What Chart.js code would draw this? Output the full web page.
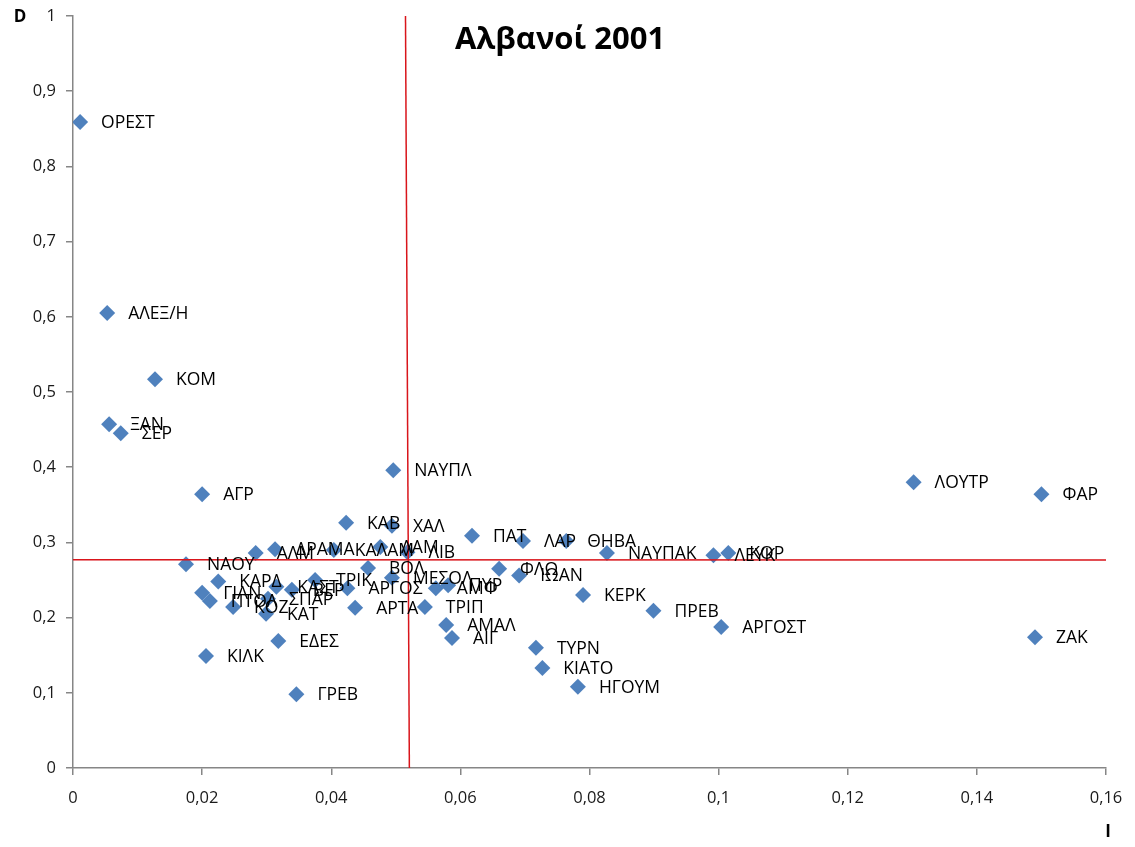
<!DOCTYPE html>
<html>
<head>
<meta charset="utf-8">
<script src="https://cdn.jsdelivr.net/npm/chart.js@4/dist/chart.umd.min.js"></script>
<style>
  html, body { margin: 0; padding: 0; background: #fff; }
  #wrap { width: 1135px; height: 847px; position: relative; }
</style>
</head>
<body>
<div id="wrap"><canvas id="chart" width="1135" height="847"></canvas></div>
<script>
const names = [
    "ΟΡΕΣΤ", "ΑΛΕΞ/Η", "ΚΟΜ", "ΞΑΝ", "ΣΕΡ", "ΑΓΡ", "ΝΑΥΠΛ", "ΚΑΒ", "ΧΑΛ", "ΠΑΤ",
    "ΛΑΡ", "ΘΗΒΑ", "ΝΑΥΠΑΚ", "ΛΕΥΚ", "ΚΟΡ", "ΛΟΥΤΡ", "ΦΑΡ", "ΖΑΚ", "ΑΡΓΟΣΤ", "ΠΡΕΒ",
    "ΚΕΡΚ", "ΗΓΟΥΜ", "ΚΙΑΤΟ", "ΤΥΡΝ", "ΑΜΑΛ", "ΑΙΓ", "ΤΡΙΠ", "ΑΡΤΑ", "ΦΛΩ", "ΙΩΑΝ",
    "ΑΜΦ", "ΠΥΡ", "ΜΕΣΟΛ", "ΒΟΛ", "ΑΡΓΟΣ", "ΤΡΙΚ", "ΚΑΣΤ", "ΒΕΡ", "ΚΑΡΔ", "ΝΑΟΥ",
    "ΓΙΑΝ", "ΠΤΟΛ", "ΚΟΖ", "ΣΠΑΡ", "ΚΑΤ", "ΚΙΛΚ", "ΕΔΕΣ", "ΓΡΕΒ", "ΑΛΜ", "ΔΡΑΜΑ",
    "ΚΑΛΑΜ", "ΛΑΜ", "ΛΙΒ"
];
const valuesI = [
    0.0011, 0.0053, 0.0127, 0.0056, 0.0074, 0.0200, 0.0496, 0.0423, 0.0494, 0.0618,
    0.0697, 0.0764, 0.0827, 0.0992, 0.1015, 0.1302, 0.1500, 0.1490, 0.1004, 0.0899,
    0.0790, 0.0782, 0.0727, 0.0717, 0.0578, 0.0587, 0.0545, 0.0437, 0.0660, 0.0691,
    0.0562, 0.0581, 0.0494, 0.0457, 0.0425, 0.0375, 0.0315, 0.0339, 0.0225, 0.0175,
    0.0200, 0.0212, 0.0248, 0.0302, 0.0299, 0.0206, 0.0318, 0.0346, 0.0283, 0.0313,
    0.0404, 0.0476, 0.0518
];
const valuesD = [
    0.859, 0.605, 0.517, 0.457, 0.445, 0.364, 0.396, 0.326, 0.322, 0.309,
    0.302, 0.302, 0.286, 0.283, 0.286, 0.380, 0.364, 0.174, 0.1875, 0.209,
    0.230, 0.108, 0.133, 0.160, 0.190, 0.173, 0.214, 0.213, 0.265, 0.256,
    0.239, 0.243, 0.253, 0.266, 0.239, 0.250, 0.241, 0.237, 0.248, 0.271,
    0.233, 0.222, 0.214, 0.225, 0.205, 0.149, 0.169, 0.098, 0.286, 0.291,
    0.290, 0.294, 0.287
];
// mean lines
const meanI = [0.0515, 0.0521];
const meanILevels = [1, 0];
const meanD = [0.2768, 0.2765];
const meanDLevels = [0, 0.16];

const xTicks = [0, 0.02, 0.04, 0.06, 0.08, 0.1, 0.12, 0.14, 0.16];
const yTicks = [0, 0.1, 0.2, 0.3, 0.4, 0.5, 0.6, 0.7, 0.8, 0.9, 1];

const FONT = "'Open Sans', 'Noto Sans', sans-serif";
const comma = v => String(Number(v.toFixed(2))).replace(".", ",");

const points = valuesI.map((x, i) => ({ x, y: valuesD[i] }));

const pointLabels = {
    id: "pointLabels",
    afterDatasetsDraw(chart) {
        const ctx = chart.ctx;
        const meta = chart.getDatasetMeta(2);
        ctx.save();
        ctx.font = "17.5px " + FONT;
        ctx.fillStyle = "#000";
        ctx.textBaseline = "middle";
        meta.data.forEach((pt, i) => {
            ctx.fillText(names[i], pt.x + 21, pt.y + 1);
        });
        ctx.restore();
    }
};

const extraText = {
    id: "extraText",
    afterDraw(chart) {
        const ctx = chart.ctx;
        ctx.save();
        ctx.fillStyle = "#000";
        ctx.font = "bold 31px " + FONT;
        ctx.textAlign = "center";
        ctx.textBaseline = "middle";
        ctx.fillText("Αλβανοί 2001", 560, 40);
        ctx.font = "bold 17px " + FONT;
        ctx.fillText("D", 20, 17);
        ctx.fillText("I", 1108, 832);
        ctx.restore();
    }
};

new Chart(document.getElementById("chart"), {
    type: "scatter",
    data: {
        datasets: [
            {
                type: "line",
                data: meanI.map((x, i) => ({ x, y: meanILevels[i] })),
                borderColor: "#d9151b",
                borderWidth: 1.5,
                pointRadius: 0,
                fill: false,
            },
            {
                type: "line",
                data: meanDLevels.map((x, i) => ({ x, y: meanD[i] })),
                borderColor: "#d9151b",
                borderWidth: 1.5,
                pointRadius: 0,
                fill: false,
            },
            {
                data: points,
                pointStyle: "rectRot",
                pointRadius: 8,
                pointBackgroundColor: "#4f81bd",
                pointBorderColor: "#4f81bd",
                pointBorderWidth: 0,
            },
        ],
    },
    options: {
        responsive: false,
        animation: false,
        devicePixelRatio: 1,
        layout: { padding: { top: 16, right: 29, left: 0, bottom: 0 } },
        plugins: {
            legend: { display: false },
            tooltip: { enabled: false },
            title: { display: false },
        },
        scales: {
            x: {
                type: "linear",
                min: 0,
                max: 0.16,
                afterFit: s => { s.height = 79; s.paddingLeft = 0; s.paddingRight = 0; },
                afterBuildTicks: s => { s.ticks = xTicks.map(v => ({ value: v })); },
                border: { color: "#868686", width: 1.5 },
                grid: { drawOnChartArea: false, tickLength: 7, color: "#868686", lineWidth: 1.5 },
                ticks: {
                    autoSkip: false,
                    maxRotation: 0,
                    minRotation: 0,
                    padding: 13,
                    color: "#1a1a1a",
                    font: { family: FONT, size: 16.5 },
                    callback: v => comma(v),
                },
            },
            y: {
                type: "linear",
                min: 0,
                max: 1,
                afterFit: s => { s.width = 73; s.paddingTop = 0; s.paddingBottom = 0; },
                afterBuildTicks: s => { s.ticks = yTicks.map(v => ({ value: v })); },
                border: { color: "#868686", width: 1.5 },
                grid: { drawOnChartArea: false, tickLength: 7, color: "#868686", lineWidth: 1.5 },
                ticks: {
                    autoSkip: false,
                    padding: 10,
                    color: "#1a1a1a",
                    font: { family: FONT, size: 16.5 },
                    callback: v => comma(v),
                },
            },
        },
    },
    plugins: [pointLabels, extraText],
});
</script>
</body>
</html>
